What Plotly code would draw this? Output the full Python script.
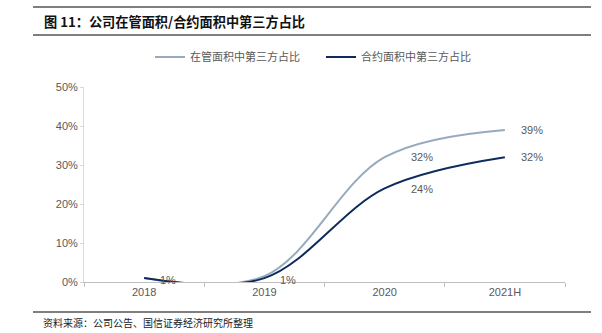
import plotly.graph_objects as go

categories = ["2018", "2019", "2020", "2021H"]
managed_share = [1.0, 1.5, 32.0, 39.0]      # 在管面积中第三方占比
contract_share = [1.0, 1.0, 24.0, 32.0]     # 合约面积中第三方占比
y_ticks = [0, 10, 20, 30, 40, 50]
y_tick_labels = ["0%", "10%", "20%", "30%", "40%", "50%"]

LIGHT = "#97AABD"
DARK = "#0D2B5C"
GRAY = "#595959"
FONT = "Liberation Sans, Noto Sans CJK SC, sans-serif"
CJK = "Noto Sans CJK SC, sans-serif"

fig = go.Figure()
fig.add_trace(go.Scatter(x=categories, y=managed_share, mode="lines",
                         name="在管面积中第三方占比",
                         line=dict(color=LIGHT, width=2, shape="spline", smoothing=1)))
fig.add_trace(go.Scatter(x=categories, y=contract_share, mode="lines",
                         name="合约面积中第三方占比",
                         line=dict(color=DARK, width=2, shape="spline", smoothing=1)))

# data labels (x given as category index so numeric-looking labels are not misread)
for i, v in enumerate(managed_share):
    if i >= 2:
        fig.add_annotation(x=i, y=v, text=f"{v:.0f}%", showarrow=False,
                           xanchor="left", yanchor="middle",
                           xshift=24 if i == 2 else 14, yshift=0,
                           font=dict(family=FONT, size=11, color=GRAY))
for i, v in enumerate(contract_share):
    fig.add_annotation(x=i, y=v, text=f"{v:.0f}%", showarrow=False,
                       xanchor="left", yanchor="middle",
                       xshift=24 if i == 2 else 14,
                       yshift=-1 if i == 2 else (0 if i == 3 else -2),
                       font=dict(family=FONT, size=11, color=GRAY))

# title and footer
fig.add_annotation(xref="paper", yref="paper", x=(42 - 84) / 481, y=(282 - 21) / 195,
                   xanchor="left", yanchor="middle", showarrow=False,
                   text="<b>图 11：公司在管面积/合约面积中第三方占比</b>",
                   font=dict(family=CJK, size=13.2, color="#111111"))
fig.add_annotation(xref="paper", yref="paper", x=(41 - 84) / 481, y=(282 - 322) / 195,
                   xanchor="left", yanchor="middle", showarrow=False,
                   text="资料来源：公司公告、国信证券经济研究所整理",
                   font=dict(family=CJK, size=10, color="#222222"))
for yy, w in [(7, 1.5), (35, 1.5), (312, 1.5)]:
    fig.add_shape(type="line", xref="paper", yref="paper",
                  x0=(33 - 84) / 481, x1=(591 - 84) / 481,
                  y0=(282 - yy) / 195, y1=(282 - yy) / 195,
                  line=dict(color="#555555", width=w))

fig.update_layout(
    width=602, height=333,
    margin=dict(l=84, r=37, t=87, b=51),
    paper_bgcolor="white", plot_bgcolor="white",
    font=dict(family=FONT, size=11, color=GRAY),
    showlegend=True,
    legend=dict(orientation="h", x=(150 - 84) / 481, y=(282 - 57) / 195,
                xanchor="left", yanchor="middle",
                entrywidth=126, entrywidthmode="pixels",
                font=dict(family=CJK, size=11, color=GRAY),
                bgcolor="rgba(0,0,0,0)"),
    xaxis=dict(type="category", range=[-0.5, 3.5], showgrid=False,
               showline=True, linecolor="#BFBFBF", linewidth=1,
               ticks="outside", tickson="boundaries", ticklen=4, tickcolor="#BFBFBF",
               tickfont=dict(family=FONT, size=11, color=GRAY)),
    yaxis=dict(range=[0, 50], tickvals=y_ticks, ticktext=y_tick_labels,
               showgrid=False, zeroline=False,
               showline=True, linecolor="#D9D9D9", linewidth=1,
               ticks="outside", ticklen=3, tickcolor="#D9D9D9",
               tickfont=dict(family=FONT, size=11, color=GRAY)),
)

fig.write_html("out.html")
